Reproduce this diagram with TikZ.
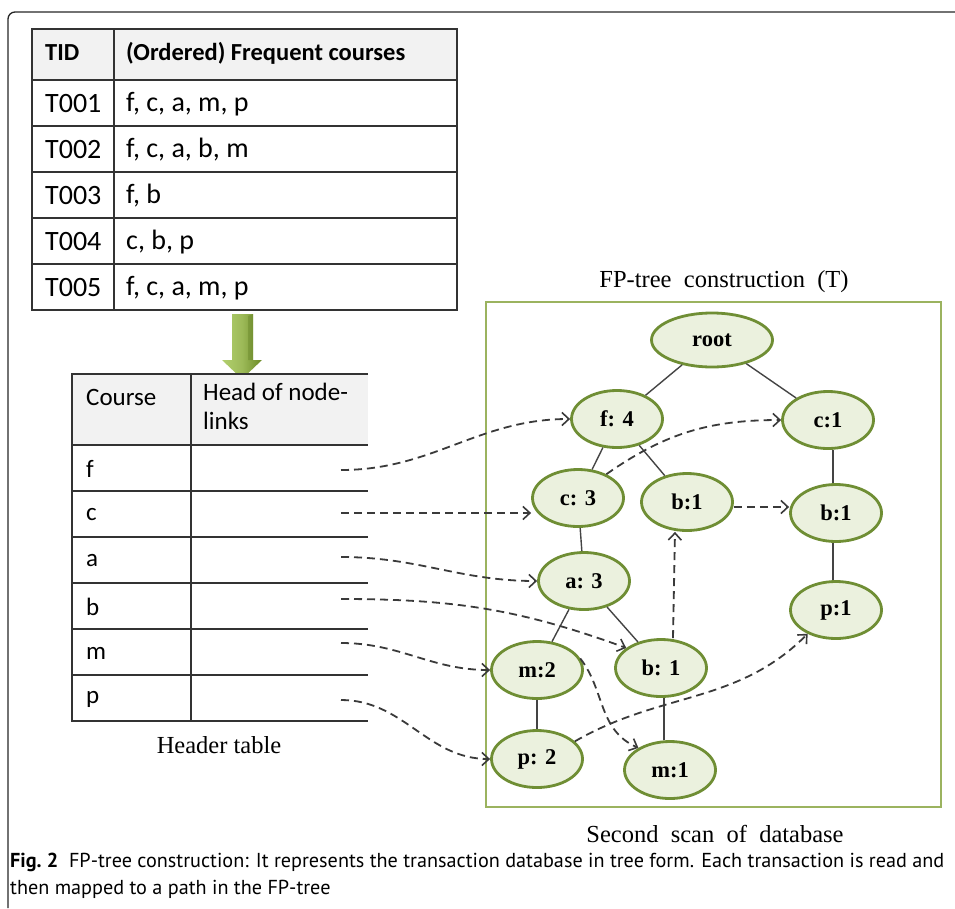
\documentclass[tikz,border=0pt]{standalone}
\usepackage{fontspec}
\setmainfont{Liberation Serif}
\newfontfamily\tabfont{Carlito}
\newfontfamily\capfont{PT Sans}
\usetikzlibrary{shapes.geometric,arrows.meta}

\definecolor{rule}{HTML}{333333}
\definecolor{headfill}{HTML}{F2F2F2}
\definecolor{treefill}{HTML}{EBF1DE}
\definecolor{treeline}{HTML}{6F8E34}
\definecolor{boxline}{HTML}{9BB35F}
\definecolor{edgecol}{HTML}{444444}
\definecolor{linkcol}{HTML}{3A3A3A}
\definecolor{arrowdark}{HTML}{6B8A26}
\definecolor{arrowlight}{HTML}{B2CF6E}

\tikzset{
  tabrule/.style={draw=rule, line width=1.6pt},
  fpnode/.style={ellipse, draw=treeline, line width=2.8pt, fill=treefill,
    minimum width=91pt, minimum height=57pt, inner sep=0pt,
    font=\fontsize{22.5}{24}\selectfont\bfseries},
  treeedge/.style={draw=edgecol, line width=1.4pt},
  nodelink/.style={draw=linkcol, line width=1.8pt, dash pattern=on 8pt off 5pt,
    -{Straight Barb[length=7pt,width=13pt,line width=1.6pt]}},
  rowtext/.style={anchor=west, inner sep=0pt, font=\tabfont\fontsize{28}{32}\selectfont},
  hdtext/.style={anchor=west, inner sep=0pt, font=\tabfont\fontsize{25}{29}\selectfont},
  seriflabel/.style={font=\fontsize{24.5}{28}\selectfont}
}

\begin{document}
\begin{tikzpicture}[x=1pt,y=-1pt]
\useasboundingbox (0,0) rectangle (955,908);

% outer frame (top and left edges)
\draw[line width=1.3pt, draw=black!85, rounded corners=7pt] (8,908) -- (8,12) -- (955,12);

% ---------- transaction table ----------
\fill[headfill] (32,29) rectangle (457,80);
\draw[tabrule] (32,29) rectangle (457,310);
\draw[tabrule] (114,29) -- (114,310);
\foreach \y in {80,126,172,218,264} \draw[tabrule] (32,\y) -- (457,\y);
\node[anchor=west, inner sep=0pt, font=\tabfont\bfseries\fontsize{24.5}{28}\selectfont] (tid) at (45,53) {TID};
\node[anchor=west, inner sep=0pt, font=\tabfont\bfseries\fontsize{24.5}{28}\selectfont] (fc) at (126,53) {(Ordered) Frequent courses};
\node[rowtext] (t1) at (45,104) {T001};
\node[rowtext] (t2) at (45,150) {T002};
\node[rowtext] (t3) at (45,196) {T003};
\node[rowtext] (t4) at (45,242) {T004};
\node[rowtext] (t5) at (45,288) {T005};
\node[rowtext] (r1) at (126,104) {f, c, a, m, p};
\node[rowtext] (r2) at (126,150) {f, c, a, b, m};
\node[rowtext] (r3) at (126,196) {f, b};
\node[rowtext] (r4) at (126,242) {c, b, p};
\node[rowtext] (r5) at (126,288) {f, c, a, m, p};

% ---------- green block arrow ----------
\shade[left color=arrowlight, right color=arrowdark, middle color=arrowlight!70!arrowdark]
  (232,314) -- (253,314) -- (253,360) -- (262,360) -- (242,379) -- (222,360) -- (232,360) -- cycle;
\fill[arrowdark!90!black, opacity=0.35] (248,316) -- (253,314) -- (253,360) -- (248,360) -- cycle;

% ---------- header table ----------
\fill[headfill] (72,374) rectangle (368,445);
\draw[tabrule] (368,374) -- (72,374) -- (72,721) -- (368,721);
\draw[tabrule] (191,374) -- (191,721);
\foreach \y in {445,491,537,583,629,675} \draw[tabrule] (72,\y) -- (368,\y);
\node[hdtext] (hcourse) at (86,397) {Course};
\node[anchor=north west, align=left, inner sep=0pt,
      font=\tabfont\fontsize{25}{29}\selectfont] (hhead) at (203,383) {Head of node-\\links};
\node[hdtext] (lf) at (86,469) {f};
\node[hdtext] (lc) at (86,515) {c};
\node[hdtext] (la) at (86,561) {a};
\node[hdtext] (lb) at (86,607) {b};
\node[hdtext] (lm) at (86,653) {m};
\node[hdtext] (lp) at (86,699) {p};
\node[seriflabel] (htcap) at (219,745) {Header table};

% start points of the node-links
\coordinate (hf) at (341,470);
\coordinate (hc) at (341,513);
\coordinate (ha) at (341,557);
\coordinate (hb) at (341,599);
\coordinate (hm) at (341,643);
\coordinate (hp) at (341,700);

% ---------- FP-tree ----------
\node[seriflabel] (fptitle) at (724,282) {FP-tree\ \ construction\ \ (T)};
\draw[draw=boxline, line width=2pt] (486,302) rectangle (941,807);
\node[seriflabel] (scan) at (715,834) {Second\ \ scan\ \ of\ \ database};

\node[fpnode, minimum width=121pt, minimum height=54pt] (root) at (712,340) {root};
\node[fpnode] (f4)  at (617,419) {f: 4};
\node[fpnode] (c1)  at (828,420) {c:1};
\node[fpnode] (c3)  at (578,498) {c: 3};
\node[fpnode] (b1a) at (687,502) {b:1};
\node[fpnode] (b1c) at (836,513) {b:1};
\node[fpnode] (a3)  at (584,581) {a: 3};
\node[fpnode] (p1)  at (836,610) {p:1};
\node[fpnode] (m2)  at (537,670) {m:2};
\node[fpnode] (b1b) at (661,668) {b: 1};
\node[fpnode] (p2)  at (537,759) {p: 2};
\node[fpnode] (m1)  at (670,770) {m:1};

% tree edges
\draw[treeedge] (root) -- (f4);
\draw[treeedge] (root) -- (c1);
\draw[treeedge] (f4) -- (c3);
\draw[treeedge] (f4) -- (b1a);
\draw[treeedge] (c3) -- (a3);
\draw[treeedge] (a3) -- (m2);
\draw[treeedge] (a3) -- (b1b);
\draw[treeedge] (m2) -- (p2);
\draw[treeedge] (b1b.south -| 664,0) -- (m1.north -| 664,0);
\draw[treeedge] (c1.south -| 833,0) -- (b1c.north -| 833,0);
\draw[treeedge] (b1c.south -| 833,0) -- (p1.north -| 833,0);

% node-links from the header table
\draw[nodelink] (hf) to[out=0, in=180] (f4.west);
\draw[nodelink] (hc) -- (c3.west |- hc);
\draw[nodelink] (ha) to[out=0, in=180] (a3.west);
\draw[nodelink] (hb) to[out=0, in=160] (b1b.150);
\draw[nodelink] (hm) to[out=0, in=180] (m2.west);
\draw[nodelink] (hp) to[out=0, in=180] (p2.west);

% node-links between tree nodes
\draw[nodelink] (c3.40) to[out=35, in=180] (c1.west);
\draw[nodelink] (b1a.east |- 0,507) -- (b1c.west |- 0,507);
\draw[nodelink] (b1b.north -| 673,0) -- (b1a.south -| 675,0);
\draw[nodelink] (m2.15) .. controls (605,690) and (598,730) .. (m1.145);
\draw[nodelink] (p2.25) to[out=30, in=225] (p1.220);

% ---------- figure caption ----------
\node[anchor=west, inner sep=0pt, font=\capfont\fontsize{20.2}{24}\selectfont] (cap1) at (10,862)
  {\textbf{Fig.~2}\ \ FP-tree construction: It represents the transaction database in tree form. Each transaction is read and};
\node[anchor=west, inner sep=0pt, font=\capfont\fontsize{20.2}{24}\selectfont] (cap2) at (10,889)
  {then mapped to a path in the FP-tree};
\end{tikzpicture}
\end{document}
